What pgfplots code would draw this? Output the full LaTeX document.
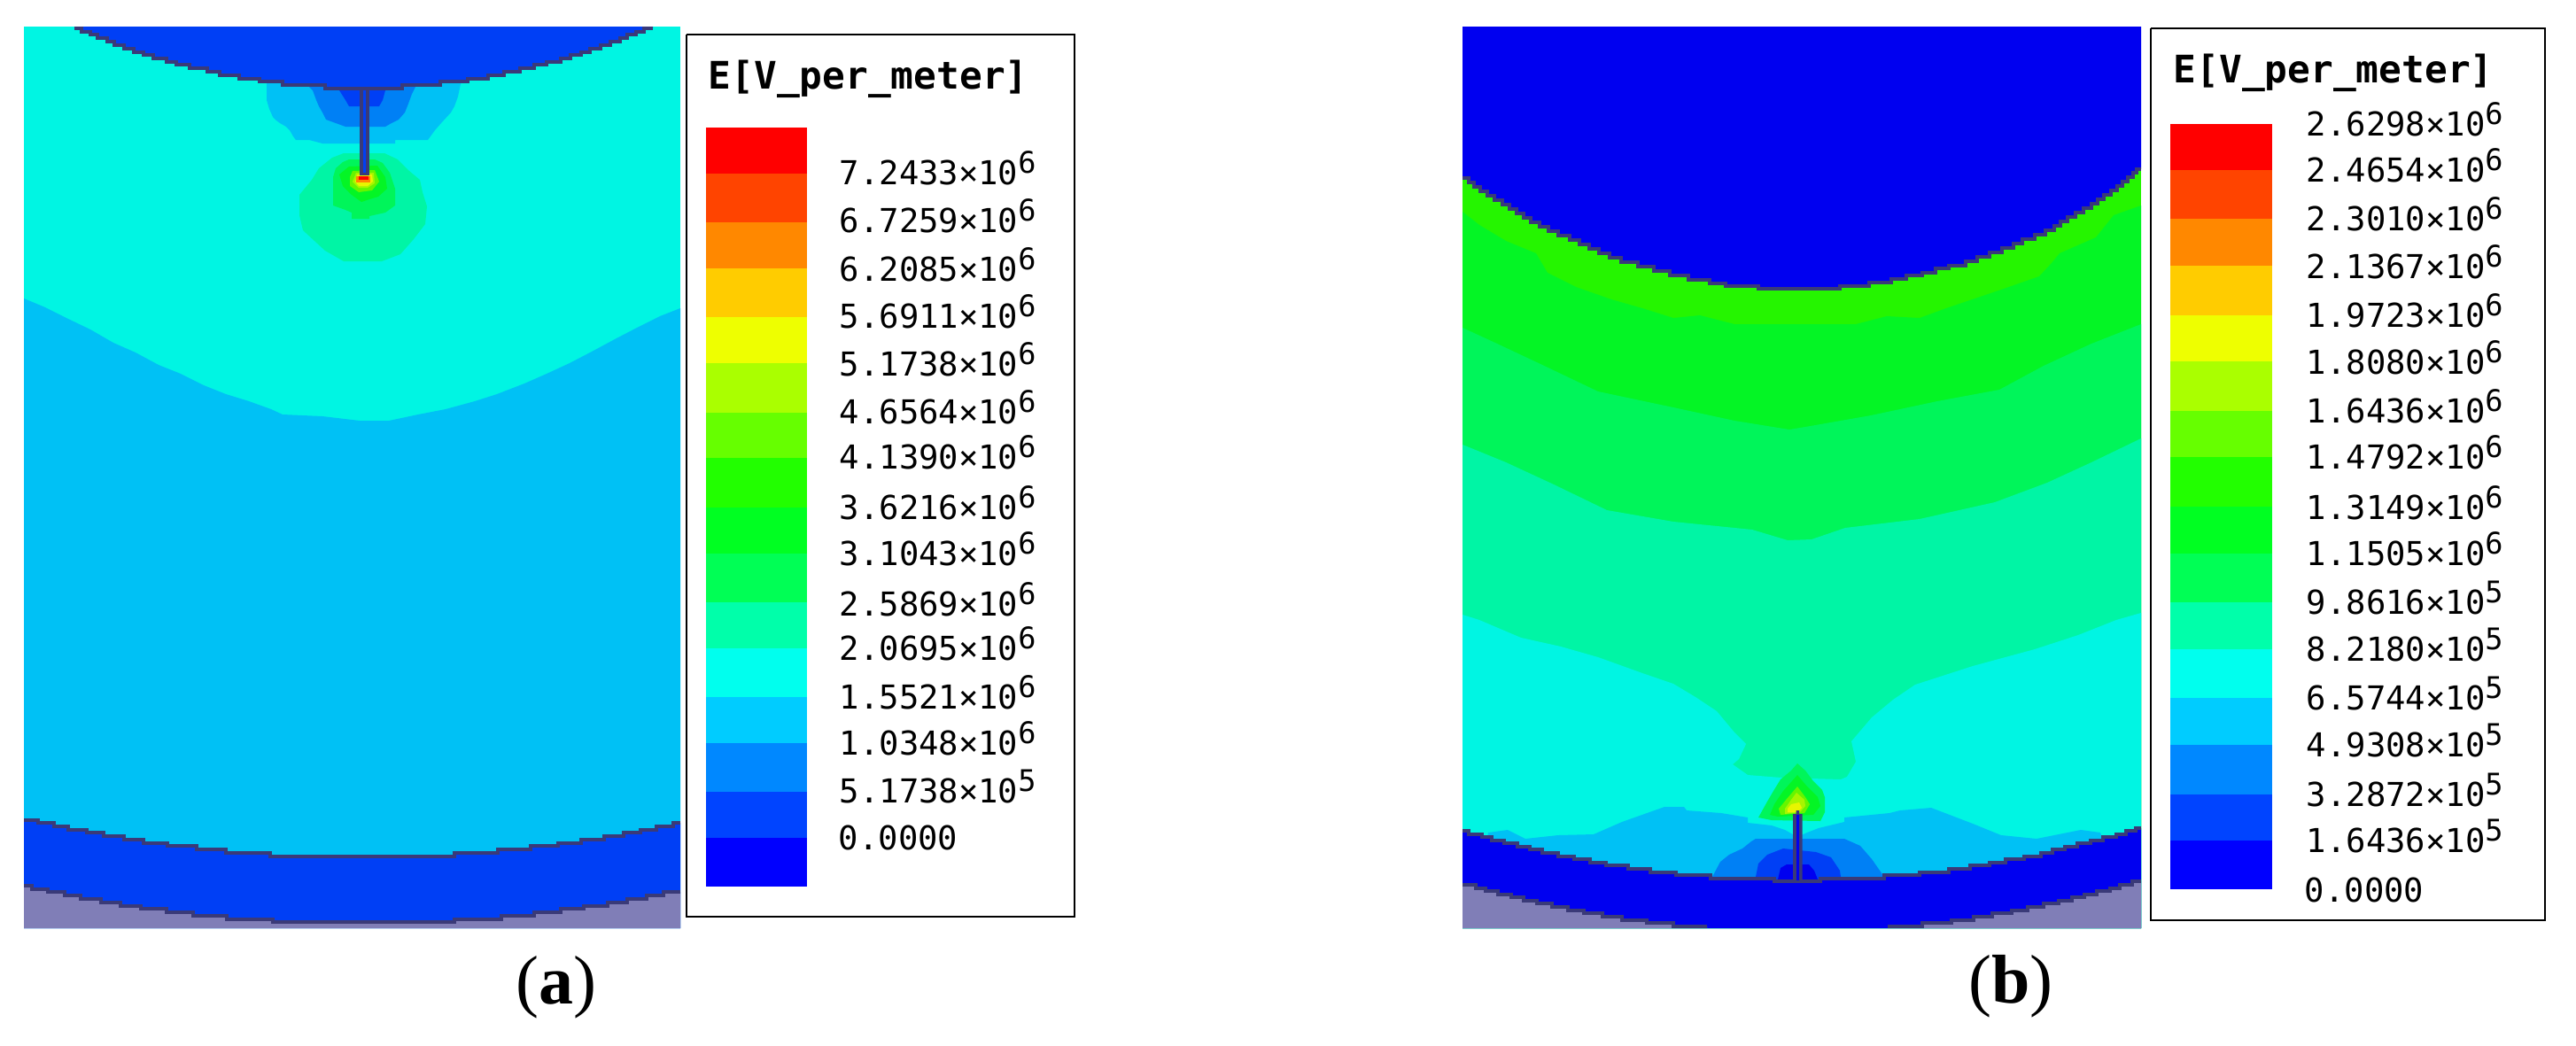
\documentclass[border=0pt]{standalone}
\usepackage{pgfplots}
\usepackage{fontspec}
\pgfplotsset{compat=1.18}
\setmainfont{Liberation Serif}
\newfontfamily\mono{DejaVu Sans Mono}
\definecolor{cB}{HTML}{0000F0}
\definecolor{cBa}{HTML}{003FF5}
\definecolor{cM}{HTML}{0080F5}
\definecolor{cL}{HTML}{00C1F5}
\definecolor{cC}{HTML}{00F5E3}
\definecolor{cT}{HTML}{00F5A5}
\definecolor{cS}{HTML}{00F55A}
\definecolor{cG}{HTML}{04F525}
\definecolor{cLi}{HTML}{25F500}
\definecolor{cH}{HTML}{66F500}
\definecolor{cA}{HTML}{A8F500}
\definecolor{cY}{HTML}{E8F500}
\definecolor{cO}{HTML}{FF8800}
\definecolor{cR}{HTML}{FF0000}
\definecolor{cD}{HTML}{3A3A78}
\definecolor{cGy}{HTML}{807EB7}
\definecolor{b0}{HTML}{FF0000}\definecolor{b1}{HTML}{FF4400}\definecolor{b2}{HTML}{FF8800}\definecolor{b3}{HTML}{FFCC00}\definecolor{b4}{HTML}{EEFF00}\definecolor{b5}{HTML}{AAFF00}\definecolor{b6}{HTML}{66FF00}\definecolor{b7}{HTML}{22FF00}\definecolor{b8}{HTML}{00FF22}\definecolor{b9}{HTML}{00FF55}\definecolor{b10}{HTML}{00FFAA}\definecolor{b11}{HTML}{00FFEE}\definecolor{b12}{HTML}{00CCFF}\definecolor{b13}{HTML}{0088FF}\definecolor{b14}{HTML}{0044FF}\definecolor{b15}{HTML}{0000FF}
\newcommand\band[5]{\addplot[fill=#1,draw=none] coordinates {(#2,#4)(#3,#4)(#3,#5)(#2,#5)};}
\newcommand\lab[4]{\node[anchor=base west,inner sep=0pt,font=\fontsize{9.3}{9.3}\selectfont\mono] at (axis cs:#1,#2) {#3×10\raisebox{3.2pt}{\fontsize{8.4}{8.4}\selectfont #4}};}
\newcommand\labz[2]{\node[anchor=base west,inner sep=0pt,font=\fontsize{9.3}{9.3}\selectfont\mono] at (axis cs:#1,#2) {0.0000};}
\newcommand\ttl[2]{\node[anchor=base west,inner sep=0pt,font=\fontsize{10.7}{10.7}\selectfont\mono\bfseries] at (axis cs:#1,#2) {E[V\_per\_meter]};}
\pgfplotsset{
  fl/.style={fill=#1,draw=none},
  bl/.style={fill=#1,draw=none,const plot},
  st/.style={draw=cD,line width=0.8pt,const plot,line join=miter},
}
\begin{document}
\begin{tikzpicture}
\begin{axis}[scale only axis,width=727pt,height=295pt,xmin=0,xmax=2908,ymin=0,ymax=1180,y dir=reverse,hide axis]
\addplot[fl=white] coordinates {(0,0)(2908,0)(2908,1180)(0,1180)};
% ---------- panel (a)
\addplot[fl=cC] coordinates {(27,30)(768,30)(768,1048)(27,1048)};
\addplot[fl=cL] coordinates {(27,337)(51,347)(77,360)(102,372)(128,387)(153,398)(179,412)(204,422)(230,435)(255,445)(281,453)(306,462)(319,468)(364,470)(406,475)(439,475)(472,468)(503,462)(536,453)(561,445)(592,433)(617,422)(643,410)(668,397)(694,383)(719,370)(745,357)(768,348)(768,1048)(27,1048)};
\addplot[fl=cL] coordinates {(301,90)(301,113)(304,123)(308,132)(312,136)(316,139)(323,143)(327,147)(331,154)(334,158)(349,158)(364,162)(446,162)(446,158)(483,158)(491,147)(498,139)(509,127)(513,120)(517,109)(521,90)};
\addplot[fl=cM] coordinates {(349,90)(349,98)(353,102)(357,113)(360,120)(364,127)(368,135)(379,139)(390,143)(435,143)(442,139)(450,135)(457,127)(461,117)(465,106)(469,98)(469,90)};
\addplot[fl=cBa] coordinates {(383,90)(383,102)(390,113)(394,120)(428,120)(432,113)(435,102)(435,90)};
\addplot[fl=cT] coordinates {(388,173)(434,173)(449,180)(462,193)(474,203)(477,217)(482,233)(480,253)(467,270)(452,287)(431,295)(388,295)(367,283)(355,272)(342,260)(338,243)(338,220)(352,203)(360,190)(375,178)};
\addplot[fl=cS] coordinates {(394,180)(423,180)(432,184)(440,195)(446,213)(446,232)(435,240)(417,244)(417,247)(397,247)(397,240)(390,237)(376,232)(376,200)(379,190)(387,183)};
\addplot[fl=cG] coordinates {(394,188)(426,187)(435,200)(437,213)(427,222)(417,225)(408,228)(397,220)(387,210)(383,197)};
\addplot[fl=cH] coordinates {(398,193)(423,192)(428,205)(420,215)(405,217)(395,210)(395,200)};
\addplot[fl=cA] coordinates {(402,195)(422,195)(423,207)(415,212)(405,212)(398,205)};
\addplot[fl=cY] coordinates {(403,197)(420,197)(421,205)(415,210)(405,210)(401,205)};
\band{cO}{402}{418}{199}{206}
\band{cR}{405}{416}{199}{203}
% electrode
\addplot[bl=cBa] coordinates {(84,30)(84,32)(92,36)(102,39)(110,43)(121,47)(129,51)(140,55)(151,59)(162,62)(173,66)(188,70)(199,73)(214,77)(234,81)(248,85)(270,89)(293,92)(319,96)(367,100)(454,96)(497,92)(528,89)(551,85)(569,81)(587,77)(603,73)(617,70)(633,66)(644,62)(656,59)(666,55)(678,51)(689,47)(700,43)(708,39)(718,36)(727,32)(737,30)};
\addplot[st] coordinates {(84,32)(92,36)(102,39)(110,43)(121,47)(129,51)(140,55)(151,59)(162,62)(173,66)(188,70)(199,73)(214,77)(234,81)(248,85)(270,89)(293,92)(319,96)(367,100)(454,96)(497,92)(528,89)(551,85)(569,81)(587,77)(603,73)(617,70)(633,66)(644,62)(656,59)(666,55)(678,51)(689,47)(700,43)(708,39)(718,36)(727,32)(737,32)};
\band{cD}{405.5}{416.5}{99}{198}
\band{cBa}{409.5}{413}{102}{195}
% lower band and ground
\addplot[bl=cBa] coordinates {(27,926)(43,929)(61,933)(77,937)(98,940)(117,944)(140,948)(162,952)(189,955)(222,959)(255,963)(305,967)(513,963)(562,959)(599,955)(630,952)(656,948)(682,944)(704,940)(723,937)(741,933)(760,929)(768,1048)(27,1048)};
\addplot[bl=cGy] coordinates {(27,1000)(36,1004)(54,1007)(73,1011)(91,1015)(114,1019)(136,1023)(159,1026)(188,1030)(218,1034)(256,1038)(308,1041)(513,1038)(566,1034)(603,1030)(633,1026)(659,1023)(686,1019)(708,1015)(730,1011)(749,1007)(768,1048)(27,1048)};
\addplot[st] coordinates {(27,926)(43,929)(61,933)(77,937)(98,940)(117,944)(140,948)(162,952)(189,955)(222,959)(255,963)(305,967)(513,963)(562,959)(599,955)(630,952)(656,948)(682,944)(704,940)(723,937)(741,933)(760,929)(768,929)};
\addplot[st] coordinates {(27,1000)(36,1004)(54,1007)(73,1011)(91,1015)(114,1019)(136,1023)(159,1026)(188,1030)(218,1034)(256,1038)(308,1041)(513,1038)(566,1034)(603,1030)(633,1026)(659,1023)(686,1019)(708,1015)(730,1011)(749,1007)(768,1007)};
% legend (a)
\addplot[draw=black,line width=0.7pt,fill=white] coordinates {(775,39)(1213,39)(1213,1035)(775,1035)(775,39)};
\band{b0}{797}{911}{144}{196}
\band{b1}{797}{911}{196}{251}
\band{b2}{797}{911}{251}{303}
\band{b3}{797}{911}{303}{358}
\band{b4}{797}{911}{358}{410}
\band{b5}{797}{911}{410}{466}
\band{b6}{797}{911}{466}{517}
\band{b7}{797}{911}{517}{573}
\band{b8}{797}{911}{573}{625}
\band{b9}{797}{911}{625}{680}
\band{b10}{797}{911}{680}{732}
\band{b11}{797}{911}{732}{787}
\band{b12}{797}{911}{787}{839}
\band{b13}{797}{911}{839}{894}
\band{b14}{797}{911}{894}{946}
\band{b15}{797}{911}{946}{1001}
\ttl{799}{100}
\lab{947}{208}{7.2433}{6}
\lab{947}{262}{6.7259}{6}
\lab{947}{317}{6.2085}{6}
\lab{947}{370}{5.6911}{6}
\lab{947}{424}{5.1738}{6}
\lab{947}{478}{4.6564}{6}
\lab{947}{529}{4.1390}{6}
\lab{947}{586}{3.6216}{6}
\lab{947}{638}{3.1043}{6}
\lab{947}{695}{2.5869}{6}
\lab{947}{745}{2.0695}{6}
\lab{947}{800}{1.5521}{6}
\lab{947}{852}{1.0348}{6}
\lab{947}{906}{5.1738}{5}
\labz{946}{959}
\node[font=\fontsize{19.5}{19.5}\selectfont] at (axis cs:628,1115) {(\textbf{a})};
% ---------- panel (b)
\addplot[fl=cLi] coordinates {(1651,30)(2417,30)(2417,1048)(1651,1048)};
\addplot[fl=cG] coordinates {(1651,239)(1670,254)(1700,272)(1734,286)(1747,308)(1779,324)(1819,338)(1854,348)(1889,359)(1919,356)(1958,366)(2095,366)(2130,357)(2167,359)(2197,348)(2262,326)(2302,312)(2316,297)(2325,286)(2366,268)(2386,243)(2417,232)(2417,1048)(1651,1048)};
\addplot[fl=cS] coordinates {(1651,370)(1690,388)(1739,411)(1804,442)(1889,460)(1958,475)(2020,485)(2038,482)(2112,469)(2187,453)(2257,440)(2307,413)(2361,388)(2417,366)(2417,1048)(1651,1048)};
\addplot[fl=cT] coordinates {(1651,502)(1700,522)(1754,547)(1814,576)(1889,589)(1978,598)(2018,610)(2045,609)(2083,596)(2167,586)(2252,567)(2311,545)(2361,522)(2417,495)(2417,1048)(1651,1048)};
\addplot[fl=cC] coordinates {(1651,694)(1670,700)(1717,720)(1762,730)(1804,742)(1854,760)(1889,772)(1914,787)(1938,803)(1958,827)(1971,840)(1963,857)(1956,863)(1973,875)(2011,878)(2078,880)(2085,877)(2095,860)(2090,837)(2113,810)(2137,790)(2162,773)(2227,752)(2297,733)(2346,717)(2389,700)(2417,692)(2417,1048)(1651,1048)};
\addplot[fl=cS] coordinates {(2029,862)(2038,870)(2047,882)(2057,892)(2060,900)(2060,917)(2055,927)(2000,926)(1985,923)(1995,905)(2002,893)(2010,880)(2022,870)};
\addplot[fl=cG] coordinates {(2029,875)(2040,888)(2052,900)(2055,910)(2047,920)(2007,922)(1998,920)(2003,908)(2013,893)(2022,883)};
\addplot[fl=cH] coordinates {(2029,888)(2038,900)(2043,908)(2037,918)(2010,920)(2008,913)(2017,902)};
\addplot[fl=cA] coordinates {(2028,895)(2037,903)(2038,910)(2032,917)(2015,919)(2015,913)(2022,903)};
\addplot[fl=cY] coordinates {(2022,908)(2031,906)(2034,912)(2029,917)(2018,917)(2018,913)};
\addplot[fl=cL] coordinates {(1680,940)(1702,937)(1722,947)(1759,943)(1799,942)(1831,928)(1879,911)(1901,911)(1904,915)(1943,918)(1973,923)(1973,929)(2000,932)(2015,937)(2029,945)(2040,940)(2053,935)(2082,928)(2082,923)(2133,918)(2145,915)(2180,912)(2227,930)(2259,943)(2299,947)(2349,937)(2371,940)(2390,1000)(1670,1000)};
\addplot[fl=cM] coordinates {(1933,1000)(1933,990)(1942,973)(1952,965)(1967,958)(1977,950)(1982,947)(2082,947)(2100,955)(2113,970)(2120,980)(2127,990)(2127,1000)};
\addplot[fl=cBa] coordinates {(1982,1000)(1982,990)(1985,975)(1995,965)(2013,958)(2050,962)(2067,968)(2077,983)(2078,990)(2078,1000)};
\addplot[fl=cB] coordinates {(2007,1000)(2007,993)(2010,980)(2017,976)(2042,976)(2048,983)(2052,993)(2052,1000)};
% lower band and ground
\addplot[bl=cB] coordinates {(1651,938)(1658,942)(1673,945)(1684,949)(1698,952)(1713,956)(1727,959)(1741,963)(1759,967)(1777,970)(1795,974)(1813,977)(1838,981)(1863,985)(1892,988)(1931,992)(2003,995)(2055,992)(2127,988)(2167,985)(2200,981)(2224,977)(2246,974)(2264,970)(2285,967)(2304,963)(2317,959)(2331,956)(2345,952)(2360,949)(2374,945)(2389,942)(2400,938)(2411,935)(2417,1048)(1651,1048)};
\addplot[bl=cGy] coordinates {(1651,999)(1666,1003)(1677,1006)(1691,1010)(1706,1013)(1720,1017)(1735,1020)(1752,1024)(1770,1028)(1788,1031)(1809,1035)(1831,1039)(1859,1042)(1889,1046)(1927,1048)(1651,1048)};
\addplot[bl=cGy] coordinates {(2131,1046)(2170,1042)(2203,1039)(2228,1035)(2249,1031)(2271,1028)(2289,1024)(2307,1020)(2324,1017)(2339,1013)(2353,1010)(2367,1006)(2382,1003)(2393,999)(2407,995)(2417,1048)(2131,1048)};
\addplot[st] coordinates {(1651,938)(1658,942)(1673,945)(1684,949)(1698,952)(1713,956)(1727,959)(1741,963)(1759,967)(1777,970)(1795,974)(1813,977)(1838,981)(1863,985)(1892,988)(1931,992)(2003,995)(2055,992)(2127,988)(2167,985)(2200,981)(2224,977)(2246,974)(2264,970)(2285,967)(2304,963)(2317,959)(2331,956)(2345,952)(2360,949)(2374,945)(2389,942)(2400,938)(2411,935)(2417,935)};
\addplot[st] coordinates {(1651,999)(1666,1003)(1677,1006)(1691,1010)(1706,1013)(1720,1017)(1735,1020)(1752,1024)(1770,1028)(1788,1031)(1809,1035)(1831,1039)(1859,1042)(1889,1046)(1927,1046)};
\addplot[st] coordinates {(2131,1046)(2170,1042)(2203,1039)(2228,1035)(2249,1031)(2271,1028)(2289,1024)(2307,1020)(2324,1017)(2339,1013)(2353,1010)(2367,1006)(2382,1003)(2393,999)(2407,995)(2417,995)};
% stem (b)
\addplot[fl=cD] coordinates {(2024,995)(2024,919)(2027.5,919)(2027.5,915)(2031,915)(2031,919)(2034.5,919)(2034.5,995)};
\band{cB}{2027.7}{2030.8}{920}{994}
% electrode (b)
\addplot[bl=cB] coordinates {(1651,30)(1651,201)(1658,206)(1664,211)(1671,216)(1679,221)(1687,226)(1696,231)(1704,236)(1712,241)(1720,246)(1728,251)(1738,256)(1748,261)(1759,266)(1772,271)(1783,276)(1794,281)(1805,286)(1817,291)(1830,296)(1849,301)(1867,306)(1885,311)(1906,316)(1930,320)(1948,323)(1985,326)(2077,323)(2110,319)(2135,315)(2152,311)(2170,308)(2185,303)(2200,300)(2219,295)(2232,290)(2246,285)(2260,280)(2273,275)(2283,270)(2297,265)(2309,260)(2319,255)(2326,250)(2334,245)(2343,240)(2352,235)(2361,230)(2368,225)(2375,220)(2383,215)(2390,210)(2396,205)(2402,200)(2408,195)(2412,191)(2417,30)};
\addplot[st] coordinates {(1651,201)(1658,206)(1664,211)(1671,216)(1679,221)(1687,226)(1696,231)(1704,236)(1712,241)(1720,246)(1728,251)(1738,256)(1748,261)(1759,266)(1772,271)(1783,276)(1794,281)(1805,286)(1817,291)(1830,296)(1849,301)(1867,306)(1885,311)(1906,316)(1930,320)(1948,323)(1985,326)(2077,323)(2110,319)(2135,315)(2152,311)(2170,308)(2185,303)(2200,300)(2219,295)(2232,290)(2246,285)(2260,280)(2273,275)(2283,270)(2297,265)(2309,260)(2319,255)(2326,250)(2334,245)(2343,240)(2352,235)(2361,230)(2368,225)(2375,220)(2383,215)(2390,210)(2396,205)(2402,200)(2408,195)(2412,191)(2417,191)};
% legend (b)
\addplot[draw=black,line width=0.7pt,fill=white] coordinates {(2428,32)(2873,32)(2873,1039)(2428,1039)(2428,32)};
\band{b0}{2450}{2565}{140}{192}
\band{b1}{2450}{2565}{192}{247}
\band{b2}{2450}{2565}{247}{300}
\band{b3}{2450}{2565}{300}{356}
\band{b4}{2450}{2565}{356}{408}
\band{b5}{2450}{2565}{408}{464}
\band{b6}{2450}{2565}{464}{516}
\band{b7}{2450}{2565}{516}{572}
\band{b8}{2450}{2565}{572}{625}
\band{b9}{2450}{2565}{625}{680}
\band{b10}{2450}{2565}{680}{733}
\band{b11}{2450}{2565}{733}{788}
\band{b12}{2450}{2565}{788}{841}
\band{b13}{2450}{2565}{841}{897}
\band{b14}{2450}{2565}{897}{949}
\band{b15}{2450}{2565}{949}{1004}
\ttl{2453}{93}
\lab{2603}{153}{2.6298}{6}
\lab{2603}{205}{2.4654}{6}
\lab{2603}{260}{2.3010}{6}
\lab{2603}{314}{2.1367}{6}
\lab{2603}{369}{1.9723}{6}
\lab{2603}{422}{1.8080}{6}
\lab{2603}{477}{1.6436}{6}
\lab{2603}{529}{1.4792}{6}
\lab{2603}{586}{1.3149}{6}
\lab{2603}{638}{1.1505}{6}
\lab{2603}{693}{9.8616}{5}
\lab{2603}{746}{8.2180}{5}
\lab{2603}{801}{6.5744}{5}
\lab{2603}{854}{4.9308}{5}
\lab{2603}{910}{3.2872}{5}
\lab{2603}{962}{1.6436}{5}
\labz{2601}{1018}
\node[font=\fontsize{19.5}{19.5}\selectfont] at (axis cs:2270,1114) {(\textbf{b})};
\end{axis}
\end{tikzpicture}
\end{document}
